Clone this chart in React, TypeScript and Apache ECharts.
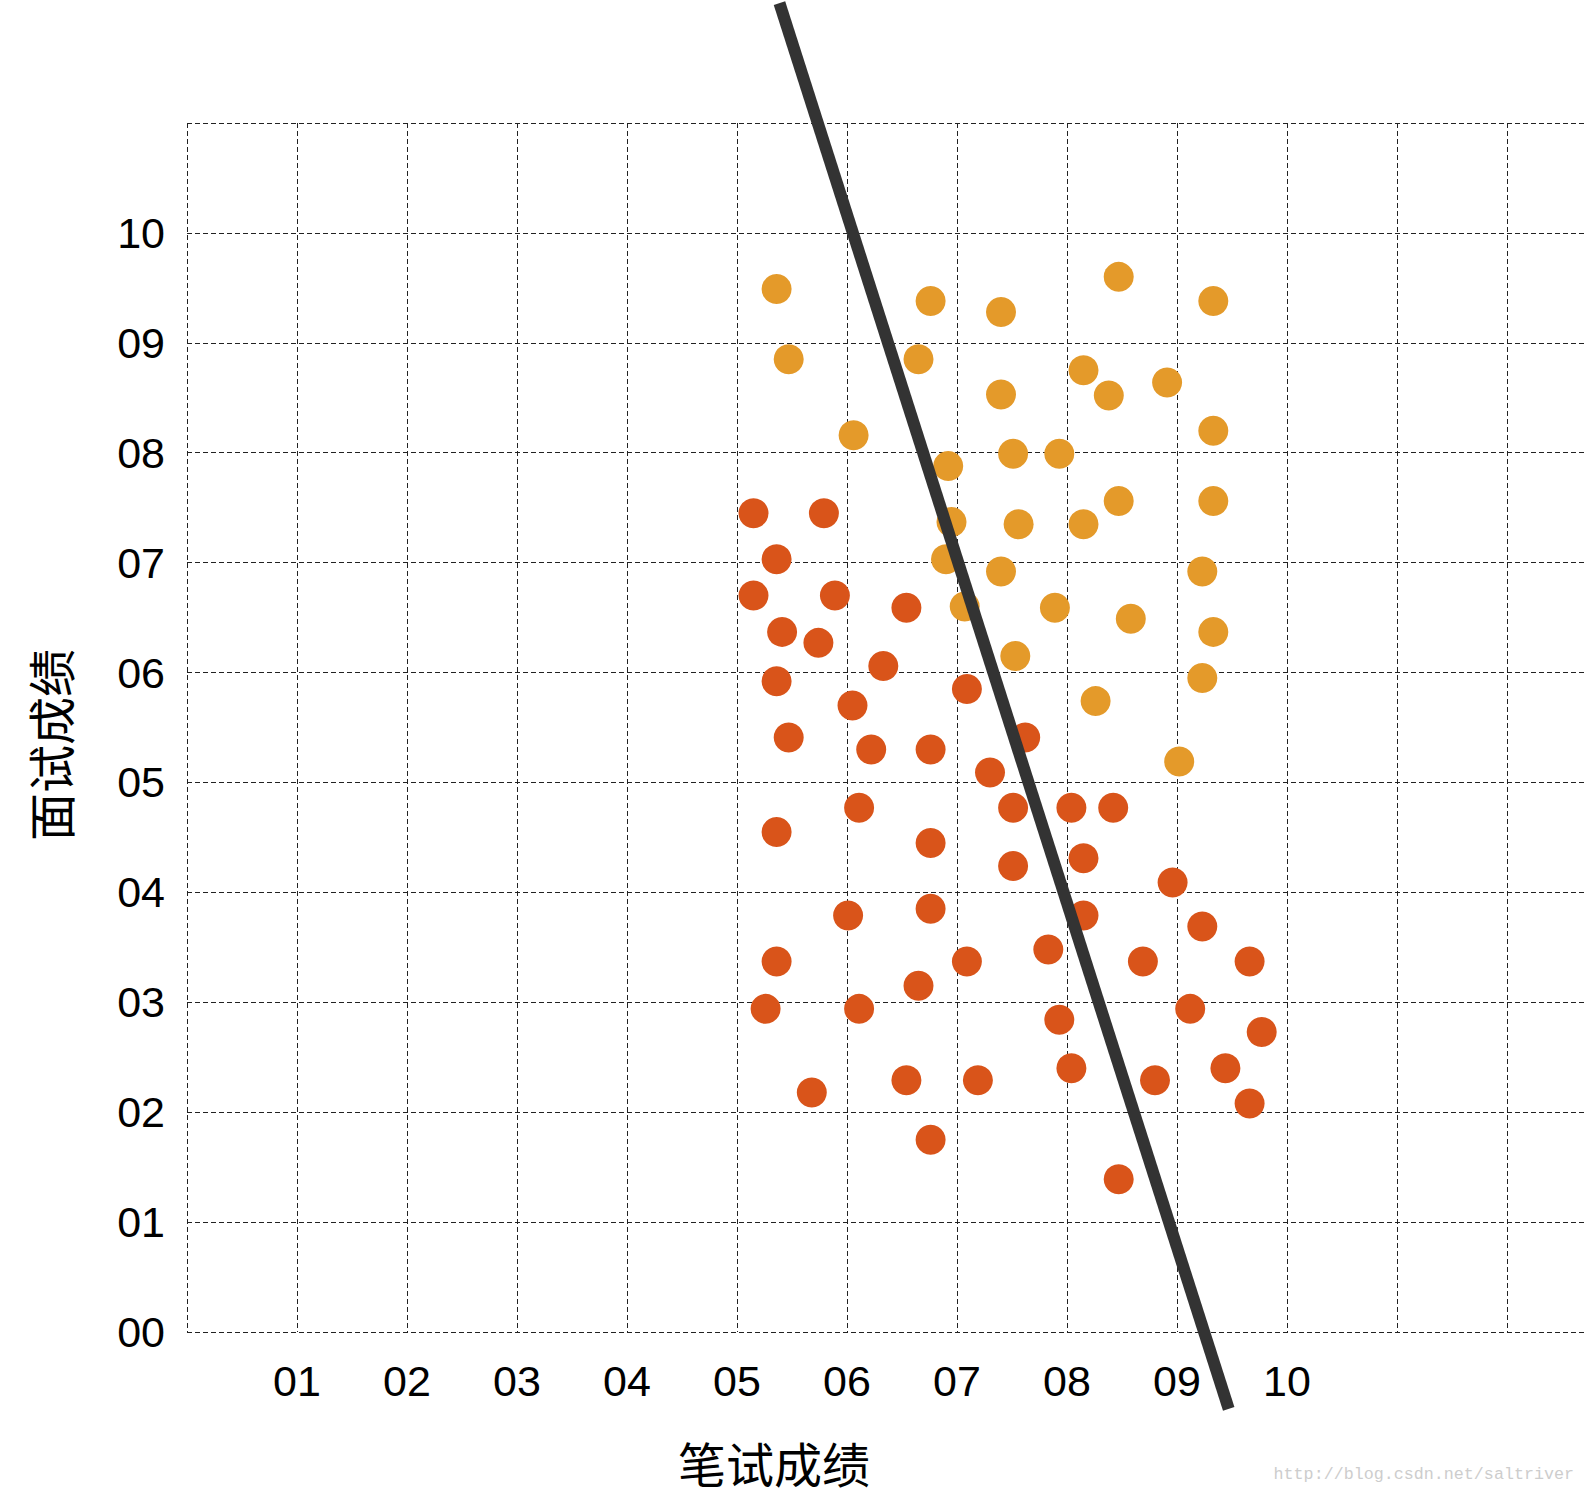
import React, { useEffect, useRef } from "react";
import * as echarts from "echarts";

// Tick labels as printed on the chart
const xTickLabels = ["01", "02", "03", "04", "05", "06", "07", "08", "09", "10"];
const yTickLabels = ["00", "01", "02", "03", "04", "05", "06", "07", "08", "09", "10"];

const xAxisTitle = "笔试成绩";
const yAxisTitle = "面试成绩";
const watermark = "http://blog.csdn.net/saltriver";

// Light orange points (admitted)
const passPoints: [number, number][] = [
  [5.36, 9.49], [5.47, 8.85], [6.76, 9.38], [7.40, 9.28], [8.47, 9.60],
  [9.33, 9.38], [6.65, 8.85], [8.15, 8.75], [7.40, 8.53], [8.38, 8.52],
  [8.91, 8.64], [6.06, 8.16], [9.33, 8.20], [6.92, 7.88], [7.51, 7.99],
  [7.93, 7.99], [8.47, 7.56], [9.33, 7.56], [6.95, 7.37], [7.56, 7.35],
  [8.15, 7.35], [6.90, 7.03], [7.40, 6.92], [9.23, 6.92], [7.07, 6.60],
  [7.89, 6.59], [8.58, 6.49], [9.33, 6.37], [7.53, 6.15], [9.23, 5.95],
  [8.26, 5.74], [9.02, 5.19],
];

// Dark orange points (rejected)
const failPoints: [number, number][] = [
  [5.15, 7.45], [5.79, 7.45], [5.36, 7.03], [5.15, 6.70], [5.89, 6.70],
  [5.41, 6.37], [5.74, 6.27], [6.54, 6.59], [6.33, 6.06], [5.36, 5.92],
  [6.05, 5.70], [7.09, 5.85], [5.47, 5.41], [7.62, 5.41], [6.22, 5.30],
  [6.76, 5.30], [7.30, 5.09], [6.11, 4.77], [7.51, 4.77], [8.04, 4.77],
  [8.42, 4.77], [5.36, 4.55], [6.76, 4.45], [8.15, 4.31], [7.51, 4.24],
  [8.96, 4.09], [6.01, 3.79], [6.76, 3.85], [8.15, 3.79], [9.23, 3.69],
  [5.36, 3.37], [7.09, 3.37], [7.83, 3.48], [8.69, 3.37], [9.66, 3.37],
  [5.26, 2.94], [6.11, 2.94], [6.65, 3.15], [9.12, 2.94], [7.93, 2.84],
  [9.77, 2.73], [5.68, 2.18], [6.54, 2.29], [7.19, 2.29], [8.04, 2.40],
  [8.80, 2.29], [9.44, 2.40], [9.66, 2.08], [6.76, 1.75], [8.47, 1.39],
];

// Decision boundary end points
const boundary: [number, number][] = [
  [5.386, 12.09],
  [9.47, -0.70],
];

export default function App() {
  const ref = useRef<HTMLDivElement>(null);

  useEffect(() => {
    if (!ref.current) return;
    const chart = echarts.init(ref.current, undefined, { renderer: "svg" });
    const gridLeft = 187;
    const gridTop = 123;
    const gridBottom = 1497 - 1332;
    const unitX = 110;
    const xMax = (1586 - gridLeft) / unitX;
    const dash = { color: "#222", width: 1, type: [5, 3] as number[] };

    chart.setOption({
      animation: false,
      backgroundColor: "#ffffff",
      grid: { left: gridLeft, right: 0, top: gridTop, bottom: gridBottom, containLabel: false },
      xAxis: {
        type: "value",
        min: 0,
        max: xMax,
        interval: 1,
        axisLine: { show: false },
        axisTick: { show: false },
        splitLine: { show: true, showMaxLine: false, lineStyle: dash },
        axisLabel: {
          show: true,
          margin: 49,
          verticalAlign: "middle",
          fontFamily: "Liberation Sans",
          fontSize: 43,
          color: "#000",
          showMaxLabel: false,
          formatter: (v: number) => {
            const i = Math.round(v);
            if (Math.abs(v - i) > 1e-6) return "";
            return i >= 1 && i <= xTickLabels.length ? xTickLabels[i - 1] : "";
          },
        },
      },
      yAxis: {
        type: "value",
        min: 0,
        max: 11,
        interval: 1,
        axisLine: { show: false },
        axisTick: { show: false },
        splitLine: { show: true, showMaxLine: true, lineStyle: dash },
        axisLabel: {
          show: true,
          margin: 22,
          fontFamily: "Liberation Sans",
          fontSize: 43,
          color: "#000",
          formatter: (v: number) => {
            const i = Math.round(v);
            if (Math.abs(v - i) > 1e-6) return "";
            return i >= 0 && i < yTickLabels.length ? yTickLabels[i] : "";
          },
        },
      },
      graphic: [
        {
          type: "text",
          x: 774,
          y: 1462,
          style: {
            text: xAxisTitle,
            fontFamily: "Noto Sans CJK SC",
            fontSize: 48,
            fill: "#000",
            align: "center",
            verticalAlign: "middle",
          },
        },
        {
          type: "text",
          x: 49,
          y: 745,
          rotation: Math.PI / 2,
          style: {
            text: yAxisTitle,
            fontFamily: "Noto Sans CJK SC",
            fontSize: 48,
            fill: "#000",
            align: "center",
            verticalAlign: "middle",
          },
        },
        {
          type: "text",
          right: 12,
          top: 1466,
          style: {
            text: watermark,
            fontFamily: "Liberation Mono",
            fontSize: 16.7,
            fill: "#cdcdcd",
          },
        },
      ],
      series: [
        {
          type: "scatter",
          data: passPoints,
          symbol: "circle",
          symbolSize: 30,
          itemStyle: { color: "#E49A2A", opacity: 1 },
          z: 2,
        },
        {
          type: "scatter",
          data: failPoints,
          symbol: "circle",
          symbolSize: 30,
          itemStyle: { color: "#D9541A", opacity: 1 },
          z: 2,
        },
        {
          type: "line",
          data: boundary,
          clip: false,
          showSymbol: false,
          symbol: "none",
          lineStyle: { color: "#333333", width: 12, cap: "butt" },
          z: 5,
        },
      ],
    });

    return () => chart.dispose();
  }, []);

  return (
    <div
      ref={ref}
      style={{ position: "fixed", left: 0, top: 0, width: 1586, height: 1497, background: "#fff" }}
    />
  );
}
